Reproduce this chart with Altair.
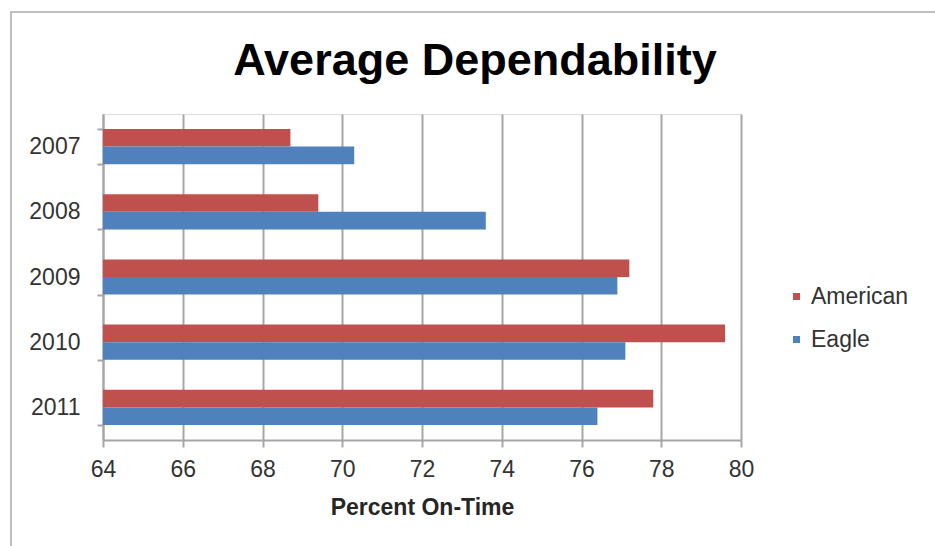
import altair as alt
import pandas as pd

years = ["2007", "2008", "2009", "2010", "2011"]
american = [68.7, 69.4, 77.2, 79.6, 77.8]
eagle = [70.3, 73.6, 76.9, 77.1, 76.4]
series = ["American", "Eagle"]
colors = ["#C0504D", "#4F81BD"]
x_ticks = [64, 66, 68, 70, 72, 74, 76, 78, 80]
chart_title = "Average Dependability"

rows = []
for y, a, e in zip(years, american, eagle):
    rows.append({"Year": y, "Series": "American", "Value": a})
    rows.append({"Year": y, "Series": "Eagle", "Value": e})
df = pd.DataFrame(rows)

FONT = "Liberation Sans"
GRAY = "#A6A6A6"

bars = alt.Chart(df).mark_bar(clip=True).encode(
    y=alt.Y("Year:N", sort=years, title=None,
            scale=alt.Scale(paddingInner=0.46, paddingOuter=0.23),
            axis=alt.Axis(tickBand="extent", tickSize=6, tickColor=GRAY, tickWidth=2,
                          domainColor=GRAY, domainWidth=2, labelPadding=17,
                          labelFontSize=23, labelColor="#333333", labelFont=FONT,
                          grid=False)),
    yOffset=alt.YOffset("Series:N", sort=series,
                        scale=alt.Scale(paddingInner=0, paddingOuter=0)),
    x=alt.X("Value:Q", title="Percent On-Time",
            scale=alt.Scale(domain=[64, 80], nice=False, zero=False),
            axis=alt.Axis(values=x_ticks, tickSize=7, tickColor=GRAY, tickWidth=2,
                          domainColor=GRAY, domainWidth=2, gridColor=GRAY, gridWidth=2,
                          labelFontSize=23, labelColor="#333333", labelFont=FONT,
                          labelFlush=False, labelOverlap=False,
                          labelPadding=11, titleFontSize=23, titleFont=FONT,
                          titleFontWeight="bold", titleColor="#262626", titlePadding=15)),
    x2=alt.datum(64),
    color=alt.Color("Series:N", sort=series,
                    scale=alt.Scale(domain=series, range=colors),
                    legend=alt.Legend(title=None, orient="none", legendX=682, legendY=171,
                                      symbolType="square", symbolSize=49,
                                      symbolStrokeWidth=0, labelFontSize=23,
                                      labelFont=FONT, labelColor="#333333",
                                      labelOffset=3, rowPadding=19)),
)

title_text = alt.Chart(pd.DataFrame({"t": [chart_title]})).mark_text(
    font=FONT, fontSize=45, fontWeight="bold", color="#000000",
    align="center", baseline="alphabetic",
).encode(text="t:N", x=alt.value(372), y=alt.value(-39))

border_left = alt.Chart(df).mark_rule(color="#BFBFBF", strokeWidth=2).encode(
    x=alt.value(-92), y=alt.value(-103), y2=alt.value(440))
border_top = alt.Chart(df).mark_rule(color="#BFBFBF", strokeWidth=2).encode(
    x=alt.value(-93), x2=alt.value(840), y=alt.value(-102))

chart = alt.layer(bars, title_text, border_left, border_top).properties(
    width=638, height=326,
    autosize=alt.AutoSizeParams(type="none"),
    padding={"left": 103, "top": 114, "right": 194, "bottom": 106},
).configure_view(stroke=None).configure(background="white")

chart.save("out.html", embed_options={"renderer": "svg", "actions": False})
